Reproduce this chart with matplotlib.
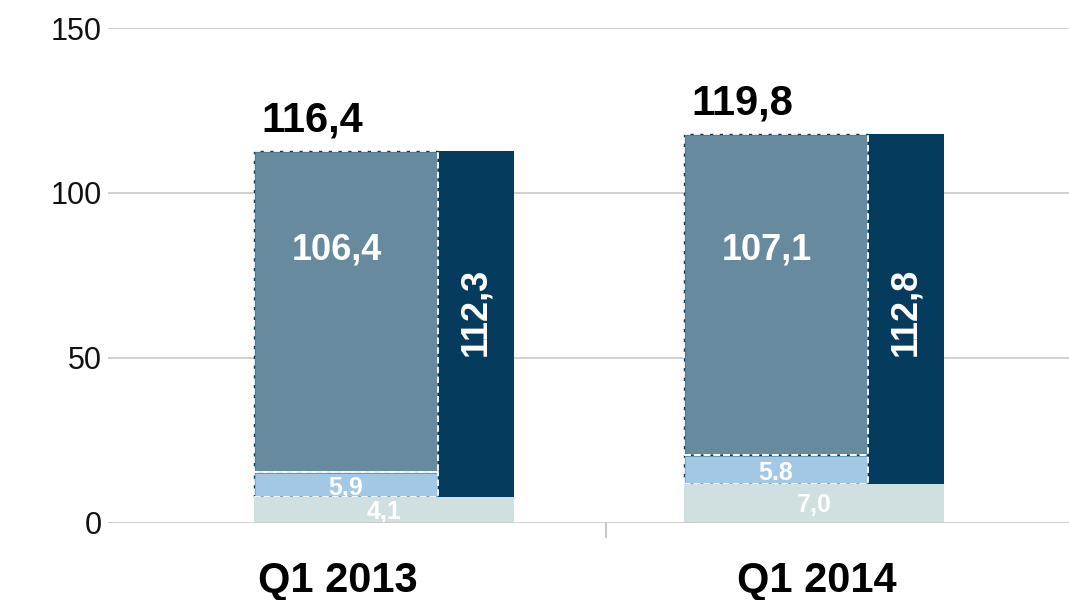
import matplotlib
matplotlib.use("Agg")
import matplotlib.pyplot as plt
import numpy as np

# data (bar heights, labels as printed)
categories = ["Q1 2013", "Q1 2014"]
base_h = [7.7, 11.7]      # bottom segment
mid_h = [7.6, 8.8]        # light blue segment
upper_h = [97.4, 97.3]    # grey-blue segment
base_lbl = ["4,1", "7,0"]
mid_lbl = ["5,9", "5.8"]
upper_lbl = ["106,4", "107,1"]
side_lbl = ["112,3", "112,8"]
total_lbl = ["116,4", "119,8"]
yticks = [0, 50, 100, 150]

# colours
c_base = "#D0DFDF"
c_mid = "#A2C8E6"
c_upper = "#688A9E"
c_dark = "#053C5E"
c_grid = "#C8C8C8"

plt.rcParams["font.family"] = ["Liberation Sans", "DejaVu Sans"]

fig = plt.figure(figsize=(10.69, 6), dpi=100)
ax = fig.add_axes([108 / 1069, 77.5 / 600, 961 / 1069, 494.5 / 600])

x = np.arange(len(categories))
full_w = 0.605
left_w = 0.428
dark_w = full_w - left_w
x_left = x - full_w / 2

base = np.array(base_h)
mid = np.array(mid_h)
upper = np.array(upper_h)
top = base + mid + upper

for y in yticks:
    ax.axhline(y, color=c_grid, lw=1.2, zorder=7 if y == 0 else 0)

# dark bar sits behind the split segments
ax.bar(x_left, mid + upper, width=full_w, bottom=base, align="edge",
       color=c_dark, zorder=2)
for h, b in ((mid, base), (upper, base + mid)):
    fill = c_mid if h is mid else c_upper
    ax.bar(x_left, h, width=left_w, bottom=b, align="edge", color=fill,
           edgecolor=c_dark, lw=1.0, zorder=3)
    ax.bar(x_left, h, width=left_w, bottom=b, align="edge", fill=False,
           edgecolor="white", lw=1.3, linestyle=(0, (3.6, 1.8)), zorder=4)
ax.bar(x_left, base, width=full_w, align="edge", color=c_base, zorder=5)

bold = dict(fontweight="bold", ha="center", va="center")
for i in range(len(categories)):
    cx_left = x_left[i] + left_w / 2
    cx_dark = x_left[i] + left_w + dark_w / 2
    ax.text(x[i], base[i] / 2 - 0.6, base_lbl[i], color="white", fontsize=18,
            zorder=6, **bold)
    ax.text(cx_left, base[i] + mid[i] / 2 - 1.0, mid_lbl[i], color="white",
            fontsize=18, zorder=4.5, **bold)
    ax.text(cx_left - 0.022, 82.6, upper_lbl[i], color="white", fontsize=26,
            zorder=6, **bold)
    ax.text(cx_dark, 64.0, side_lbl[i], color="white", fontsize=26,
            rotation=90, zorder=6, **bold)
    ax.text(x_left[i] + 0.018, top[i] + 6, total_lbl[i], color="black",
            fontsize=30, fontweight="bold", ha="left", va="baseline", zorder=6)

# category labels under the axis
cat_shift = [-0.107, 0.007]
for i, lab in enumerate(categories):
    ax.annotate(lab, xy=(x[i] + cat_shift[i], 0),
                xycoords=("data", "axes fraction"), xytext=(0, -42),
                textcoords="offset points", ha="center", va="center",
                fontsize=30, fontweight="bold", annotation_clip=False)

# small separator tick between categories
ax.plot([0.516, 0.516], [0, -4.5], color=c_grid, lw=1.5, clip_on=False)

ax.set_xlim(-0.642, 1.593)
ax.set_ylim(0, 150)
ax.set_xticks([])
ax.set_yticks(yticks)
ax.tick_params(axis="y", length=0, pad=4.5, labelsize=22, labelcolor="#111111")
for s in ax.spines.values():
    s.set_visible(False)

fig.savefig("out.png", dpi=100)
